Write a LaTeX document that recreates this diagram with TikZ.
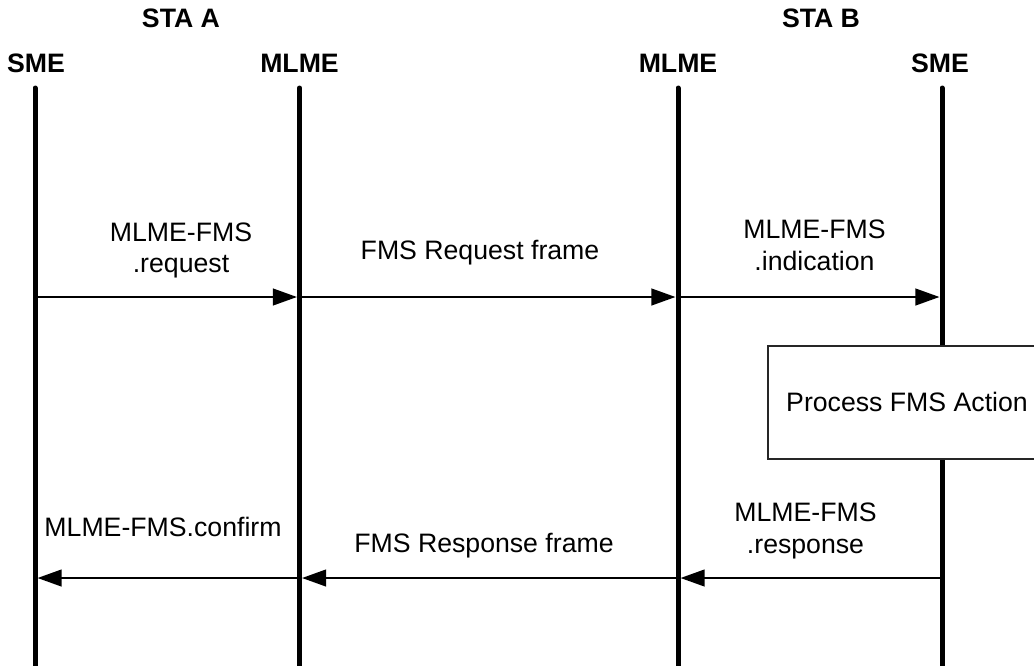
\documentclass[tikz,border=0pt]{standalone}
\usepackage{fontspec}
\setmainfont{Liberation Sans}
\usetikzlibrary{arrows.meta}
\begin{document}
\begin{tikzpicture}[x=0.75pt,y=-0.75pt,
  lifeline/.style={line width=3.75pt,line cap=round},
  msg/.style={line width=1.5pt,-{Triangle[length=18pt,width=12.5pt]},shorten >=1.9pt},
  lbl/.style={anchor=base,inner sep=0pt,font=\fontsize{20}{24}\selectfont},
  hdr/.style={anchor=base,inner sep=0pt,font=\fontsize{20}{24}\selectfont\bfseries},
  procbox/.style={draw=black!85,line width=0.9pt,fill=white}]
\useasboundingbox (0,0) rectangle (1034,665);
\clip (0,0) rectangle (1034,665);
% headers
\node[hdr] (staA) at (181,27) {STA A};
\node[hdr] (staB) at (821,27) {STA B};
\node[hdr] (smeA) at (36,72) {SME};
\node[hdr] (mlmeA) at (299.5,72) {MLME};
\node[hdr] (mlmeB) at (678,72) {MLME};
\node[hdr] (smeB) at (940,72) {SME};
% lifelines
\coordinate (l1t) at (35,88);   \coordinate (l1b) at (35,680);
\coordinate (l2t) at (299.5,88);\coordinate (l2b) at (299.5,680);
\coordinate (l3t) at (678,88);  \coordinate (l3b) at (678,680);
\coordinate (l4t) at (942,88);  \coordinate (l4b) at (942,680);
\draw[lifeline] (l1t) -- (l1b);
\draw[lifeline] (l2t) -- (l2b);
\draw[lifeline] (l3t) -- (l3b);
\draw[lifeline] (l4t) -- (l4b);
% request messages
\coordinate (q1) at (35,297);
\coordinate (q2) at (299.5,297);
\coordinate (q3) at (678,297);
\coordinate (q4) at (942,297);
\draw[msg] (q1) -- (q2);
\draw[msg] (q2) -- (q3);
\draw[msg] (q3) -- (q4);
\node[lbl] (req1) at (181,241) {MLME-FMS};
\node[lbl] (req2) at (181,272) {.request};
\node[lbl] (frq) at (480,259) {FMS Request frame};
\node[lbl] (ind1) at (814.5,238) {MLME-FMS};
\node[lbl] (ind2) at (814.5,270) {.indication};
% process box
\draw[procbox] (768,346) rectangle (1045,459);
\node[lbl] (proc) at (907,411) {Process FMS Action};
% response messages
\coordinate (r1) at (35,578);
\coordinate (r2) at (299.5,578);
\coordinate (r3) at (678,578);
\coordinate (r4) at (942,578);
\draw[msg] (r4) -- (r3);
\draw[msg] (r3) -- (r2);
\draw[msg] (r2) -- (r1);
\node[lbl] (conf) at (163,536) {MLME-FMS.confirm};
\node[lbl] (frs) at (484,552) {FMS Response frame};
\node[lbl] (rsp1) at (805.5,521) {MLME-FMS};
\node[lbl] (rsp2) at (805.5,553) {.response};
\end{tikzpicture}
\end{document}
